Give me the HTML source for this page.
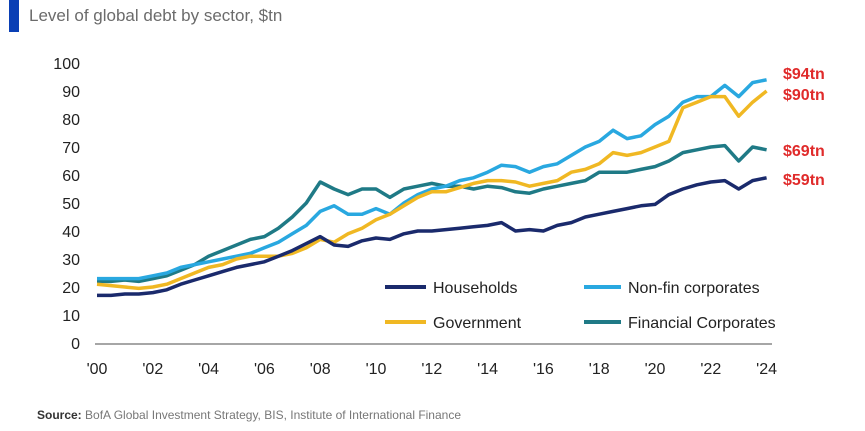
<!DOCTYPE html>
<html><head><meta charset="utf-8"><style>
html,body{margin:0;padding:0;background:#fff;width:865px;height:431px;overflow:hidden;font-family:"Liberation Sans",sans-serif}
</style></head><body>
<svg id="chart" width="865" height="431" viewBox="0 0 865 431" xmlns="http://www.w3.org/2000/svg">
<rect x="9" y="0" width="10" height="32" fill="#0a3fb5"/>
<text x="29" y="21" font-size="17" fill="#6b6b6b">Level of global debt by sector, $tn</text>
<g id="yticks"></g>
<g id="xticks"></g>
<line x1="95" y1="344" x2="772" y2="344" stroke="#888" stroke-width="1.5"/>
<g id="lines"></g>
<g id="endlabels"></g>
<g font-size="16" fill="#222">
 <g><line x1="385" y1="287" x2="426" y2="287" stroke="#1a2a6c" stroke-width="4"/><text x="433" y="293">Households</text></g>
 <g><line x1="584" y1="287" x2="621" y2="287" stroke="#29a8e0" stroke-width="4"/><text x="628" y="293">Non-fin corporates</text></g>
 <g><line x1="385" y1="322" x2="426" y2="322" stroke="#f0b823" stroke-width="4"/><text x="433" y="328">Government</text></g>
 <g><line x1="584" y1="322" x2="621" y2="322" stroke="#1f7a86" stroke-width="4"/><text x="628" y="328">Financial Corporates</text></g>
</g>
<text x="37" y="419" font-size="12" fill="#777"><tspan font-weight="bold" fill="#333">Source:</tspan> BofA Global Investment Strategy, BIS, Institute of International Finance</text>
</svg>
<script>
const yTicks=[0,10,20,30,40,50,60,70,80,90,100];
const xTickYears=[2000,2002,2004,2006,2008,2010,2012,2014,2016,2018,2020,2022,2024];
const xTickLabels=["'00","'02","'04","'06","'08","'10","'12","'14","'16","'18","'20","'22","'24"];
const years=[];for(let y=2000;y<=2024;y+=0.5)years.push(y);
const households=[17,17,17.5,17.5,18,19,21,22.5,24,25.5,27,28,29,31,33,35.5,38,35,34.5,36.5,37.5,37,39,40,40,40.5,41,41.5,42,43,40,40.5,40,42,43,45,46,47,48,49,49.5,53,55,56.5,57.5,58,55,58,59];
const nonFin=[23,23,23,23,24,25,27,28,29,30,31,32,34,36,39,42,47,49,46,46,48,46,50,53,55,56,58,59,61,63.5,63,61,63,64,67,70,72,76,73,74,78,81,86,88,88,92,88,93,94];
const government=[21,20.5,20,19.5,20,21,23,25,27,28,30,31,31,31,32,34,37,36,39,41,44,46,49,52,54,54,55.5,57,58,58,57.5,56,57,58,61,62,64,68,67,68,70,72,84,86,88,88,81,86,90];
const financial=[22,22,22.5,22,23,24,26,28,31,33,35,37,38,41,45,50,57.5,55,53,55,55,52,55,56,57,56,56,55,56,55.5,54,53.5,55,56,57,58,61,61,61,62,63,65,68,69,70,70.5,65,70,69];
const endLabels=["$94tn","$90tn","$69tn","$59tn"];
const endLabelValues=[94,90,69,59];
const NS="http://www.w3.org/2000/svg";
const X=y=>97+(y-2000)*27.9;
const Y=v=>343-v*2.8;
function mk(tag,attrs,parent){const e=document.createElementNS(NS,tag);for(const k in attrs)e.setAttribute(k,attrs[k]);parent.appendChild(e);return e;}
const yg=document.getElementById('yticks');
yTicks.forEach(t=>{const e=mk('text',{x:80,y:Y(t)+6,'text-anchor':'end','font-size':16,fill:'#222'},yg);


e.textContent=t;});
const xg=document.getElementById('xticks');
xTickYears.forEach((yr,i)=>{const e=mk('text',{x:X(yr),y:374,'text-anchor':'middle','font-size':16,fill:'#222'},xg);


e.textContent=xTickLabels[i];});
const lg=document.getElementById('lines');
[[financial,'#1f7a86','line-financial-corporates'],[nonFin,'#29a8e0','line-non-fin-corporates'],[government,'#f0b823','line-government'],[households,'#1a2a6c','line-households']].forEach(([d,c,n])=>{
const p=mk('polyline',{points:d.map((v,i)=>X(years[i]).toFixed(1)+','+Y(v).toFixed(1)).join(' '),fill:'none',stroke:c,'stroke-width':3.5,'stroke-linejoin':'round'},lg);

});
const eg=document.getElementById('endlabels');
const labelY=[79,100,156,185];
endLabels.forEach((t,i)=>{const e=mk('text',{x:783,y:labelY[i],'font-size':16,'font-weight':'bold',fill:'#e02a2a'},eg);


e.textContent=t;});
</script>
</body></html>
